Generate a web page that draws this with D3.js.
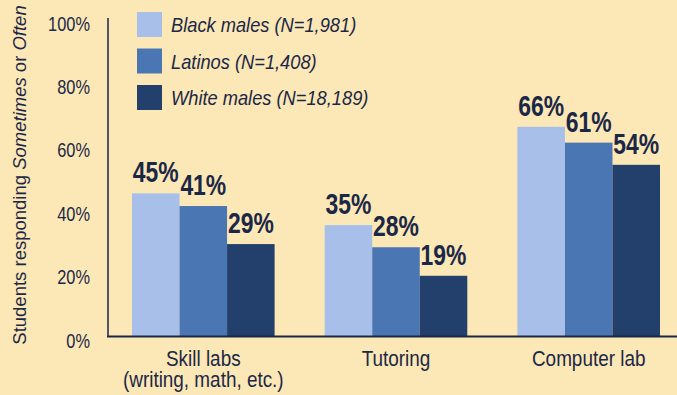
<!DOCTYPE html>
<html>
<head>
<meta charset="utf-8">
<script src="https://cdn.jsdelivr.net/npm/d3@7"></script>
<style>
  html, body { margin: 0; padding: 0; background: #fbe8b6; }
  svg { display: block; }
  text { font-family: "Liberation Sans", Arial, Helvetica, sans-serif; }
</style>
</head>
<body>
<svg id="chart" width="677" height="395"></svg>
<script>
// Survey results: share of students responding "Sometimes" or "Often"
const categories = ["Skill labs|(writing, math, etc.)", "Tutoring", "Computer lab"];
const series = ["Black males (N=1,981)", "Latinos (N=1,408)", "White males (N=18,189)"];
const blackMales = [45, 35, 66];
const latinos = [41, 28, 61];
const whiteMales = [29, 19, 54];
const yTicks = [0, 20, 40, 60, 80, 100];

const seriesValues = [blackMales, latinos, whiteMales];
const colors = ["#a8c0e9", "#4a76b3", "#233f6c"];
const ink = "#1b2746";

// Places a text at (x, y) and narrows it horizontally to mimic a condensed face.
function condensed(sel, x, y, f) {
  return sel.attr("x", 0).attr("y", 0)
    .attr("transform", (d, i) => `translate(${typeof x === "function" ? x(d, i) : x},${typeof y === "function" ? y(d, i) : y}) scale(${f},1)`);
}

const svg = d3.select("#chart");
svg.append("rect").attr("width", 677).attr("height", 395).attr("fill", "#fbe8b6");

const y = d3.scaleLinear().domain([0, 100]).range([336, 19]);
const x0 = d3.scaleBand().domain(categories).range([132, 660]).paddingInner(0.26).paddingOuter(0);
const x1 = d3.scaleBand().domain(series).range([0, x0.bandwidth()]).padding(0);

// bars
const groups = svg.append("g").selectAll("g")
  .data(categories)
  .join("g")
  .attr("transform", d => `translate(${x0(d)},0)`);

const cells = (c, ci) => series.map((s, si) => ({ s, si, v: seriesValues[si][ci] }));

groups.selectAll("rect")
  .data(cells)
  .join("rect")
  .attr("x", d => x1(d.s))
  .attr("y", d => y(d.v))
  .attr("width", x1.bandwidth())
  .attr("height", d => y(0) - y(d.v))
  .attr("fill", d => colors[d.si]);

groups.selectAll("text.val")
  .data(cells)
  .join("text")
  .attr("class", "val")
  .attr("text-anchor", "middle")
  .attr("font-size", 29)
  .attr("font-weight", "bold")
  .attr("fill", ink)
  .text(d => d.v + "%")
  .call(condensed, d => x1(d.s) + x1.bandwidth() / 2, d => y(d.v) - 11, 0.79);

// axes
const yAxis = d3.axisLeft(y).tickValues(yTicks).tickSize(0).tickFormat(d => d + "%");
const gy = svg.append("g").attr("transform", "translate(108,0)").call(yAxis);
gy.select(".domain").remove();
gy.selectAll("text")
  .attr("font-size", 21)
  .attr("fill", ink)
  .attr("font-family", null)
  .attr("dy", null)
  .attr("text-anchor", "end")
  .call(condensed, -18, 11, 0.78);

svg.append("line").attr("x1", 108).attr("x2", 108).attr("y1", 18).attr("y2", y(0))
  .attr("stroke", ink).attr("stroke-width", 1.5);
svg.append("line").attr("x1", 107).attr("x2", 677).attr("y1", y(0) + 0.5).attr("y2", y(0) + 0.5)
  .attr("stroke", ink).attr("stroke-width", 2);

// category labels (one text per line)
const catLines = categories.flatMap(c => c.split("|").map((t, li) => ({ c, t, li })));
svg.append("g").selectAll("text")
  .data(catLines)
  .join("text")
  .attr("text-anchor", "middle")
  .attr("font-size", 22)
  .attr("fill", ink)
  .text(d => d.t)
  .call(condensed, d => x0(d.c) + x0.bandwidth() / 2, d => 366 + d.li * 21, 0.86);

// y-axis title
const title = svg.append("text")
  .attr("transform", "translate(25.5,175) rotate(-90)")
  .attr("text-anchor", "middle")
  .attr("font-size", 18.5)
  .attr("fill", ink);
title.append("tspan").text("Students responding ");
title.append("tspan").attr("font-style", "italic").text("Sometimes");
title.append("tspan").text(" or ");
title.append("tspan").attr("font-style", "italic").text("Often");

// legend
const legend = svg.append("g").selectAll("g")
  .data(series)
  .join("g")
  .attr("transform", (d, i) => `translate(137,${12 + i * 36.5})`);
legend.append("rect").attr("width", 25).attr("height", 25).attr("fill", (d, i) => colors[i]);
legend.append("text")
  .attr("font-size", 21)
  .attr("font-style", "italic")
  .attr("fill", ink)
  .text(d => d)
  .call(condensed, 34, 20, 0.87);
</script>
</body>
</html>
